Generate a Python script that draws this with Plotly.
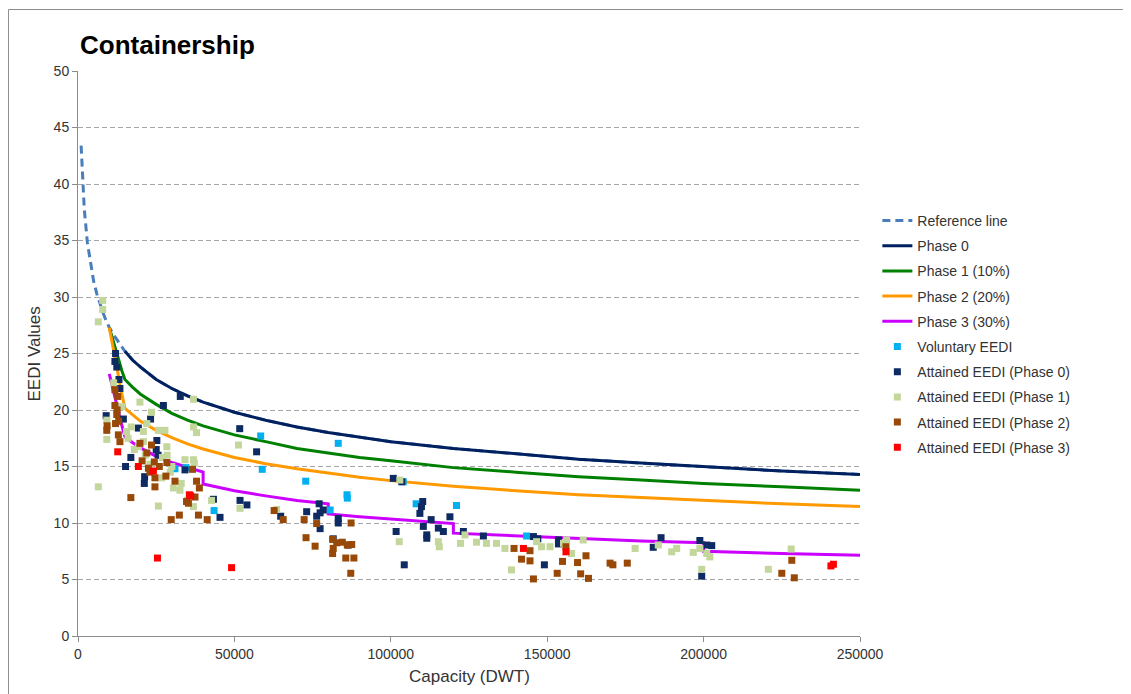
import plotly.graph_objects as go

# ---------------------------
# Datos
# ---------------------------
ref_x = [1000, 1500, 2000, 3000, 4000, 5000, 6000, 7000, 8000, 9000, 10000, 12000, 15000,
         17500, 20000, 25000, 30000, 35000, 40000, 50000, 60000, 70000, 80000, 90000, 100000,
         120000, 140000, 160000, 180000, 200000, 225000, 250000]
ref_y = [43.4, 40.0, 37.8, 34.8, 32.9, 31.4, 30.3, 29.4, 28.6, 27.9, 27.3, 26.4, 25.2,
         24.4, 23.8, 22.7, 21.9, 21.25, 20.7, 19.8, 19.1, 18.5, 18.0, 17.6, 17.2,
         16.6, 16.1, 15.65, 15.3, 15.0, 14.6, 14.3]

p0_x = [15000, 17500, 20000, 25000, 30000, 35000, 40000, 50000, 60000, 70000, 80000, 90000,
        100000, 120000, 140000, 160000, 180000, 200000, 225000, 250000]
p0_y = [25.2, 24.4, 23.8, 22.7, 21.9, 21.25, 20.7, 19.8, 19.1, 18.5, 18.0, 17.6,
        17.2, 16.6, 16.1, 15.65, 15.3, 15.0, 14.6, 14.3]

p1_x = [10000, 11000, 12000, 13000, 14000, 15000, 17500, 20000, 25000, 30000, 35000, 40000,
        50000, 60000, 70000, 80000, 90000, 100000, 120000, 140000, 160000, 180000, 200000,
        225000, 250000]
p1_y = [27.3, 26.3, 25.3, 24.4, 23.5, 22.7, 22.0, 21.4, 20.5, 19.7, 19.1, 18.6,
        17.8, 17.2, 16.6, 16.2, 15.8, 15.5, 14.9, 14.5, 14.1, 13.8, 13.5,
        13.2, 12.9]

p2_x = p1_x
p2_y = [27.3, 25.75, 24.25, 22.8, 21.45, 20.15, 19.55, 19.0, 18.2, 17.55, 17.0, 16.55,
        15.8, 15.25, 14.8, 14.4, 14.05, 13.75, 13.25, 12.85, 12.5, 12.25, 12.0,
        11.7, 11.45]

p3_x = [10000, 11000, 12000, 13000, 14000, 15000, 17500, 20000, 25000, 30000, 35000, 40000,
        40000, 50000, 60000, 70000, 80000, 80000, 90000, 100000, 120000, 120000, 140000,
        160000, 180000, 200000, 200000, 225000, 250000]
p3_y = [23.2, 22.0, 20.8, 19.7, 18.65, 17.65, 17.1, 16.65, 15.9, 15.35, 14.9, 14.5,
        13.45, 12.85, 12.4, 12.0, 11.7, 10.8, 10.55, 10.35, 9.95, 9.1, 8.85,
        8.6, 8.4, 8.25, 7.5, 7.3, 7.15]

vol_x = [31000, 34500, 58400, 58900, 43500, 83200, 72800, 86100, 86000, 80600, 108100,
         121000, 104000, 143400]
vol_y = [14.8, 14.9, 17.7, 14.75, 11.1, 17.05, 13.7, 12.2, 12.5, 11.15, 11.7,
         11.55, 13.65, 8.85]

a0_x = [11800, 12400, 13100, 13400, 12000, 32700, 27300, 9000, 14500, 19300, 23200, 25200,
        25000, 25600, 51700, 57100, 16900, 15200, 21300, 21200, 34200, 43300, 51800, 54000,
        45400, 64800, 73100, 77100, 77400, 78400, 76300, 77400, 83200, 83200, 81600, 86400,
        100800, 103500, 101700, 104300, 110200, 109800, 109300, 110400, 111500, 111500,
        112900, 115200, 116800, 118900, 123200, 129600, 145600, 147000, 153600, 153600,
        149100, 186400, 183900, 198800, 201000, 202600, 199400]
a0_y = [24.3, 23.8, 22.7, 21.9, 25.0, 21.2, 20.4, 19.5, 19.2, 18.4, 19.2, 17.3,
        16.5, 16.0, 18.35, 16.3, 15.8, 15.0, 14.1, 13.5, 14.7, 12.1, 12.0, 11.6,
        10.5, 10.6, 11.0, 11.7, 10.9, 11.15, 10.6, 9.5, 10.4, 10.0, 8.6, 8.05,
        13.95, 13.65, 9.25, 6.3, 11.9, 11.45, 10.85, 9.7, 8.95, 8.65,
        10.3, 9.55, 9.25, 10.55, 9.25, 8.85, 8.8, 8.6, 8.5, 8.15,
        6.3, 8.7, 7.85, 8.45, 8.05, 8.0, 5.3]

a1_x = [7900, 7900, 6500, 11400, 19800, 23500, 36900, 36900, 37900, 9200, 9200, 15500,
        20900, 22000, 27800, 25700, 28400, 28500, 20900, 19300, 51300, 6500, 25700, 34200,
        36900, 37200, 30500, 32600, 36900, 42700, 51800, 63500, 26800, 29500, 14000, 17000,
        16000, 18000, 21500, 23000, 27000, 30000, 33000, 35000,
        102700, 102900, 115200, 115500, 122300, 123700, 127400, 130600, 133800, 136500,
        138600, 146600, 148200, 150900, 155200, 156200, 157800, 161500, 178100, 185500,
        189800, 191400, 196700, 198800, 201000, 202000, 199400, 220700, 228000]
a1_y = [29.7, 28.9, 27.8, 22.4, 20.7, 19.8, 20.95, 18.5, 18.0, 19.1, 17.4, 18.1,
        18.1, 18.8, 18.2, 18.2, 16.75, 16.0, 17.2, 16.75, 16.9, 13.2, 11.5, 15.6,
        15.6, 15.3, 13.1, 12.9, 11.45, 12.0, 11.3, 11.2, 14.0, 14.5, 20.3, 18.5,
        17.5, 16.5, 16.0, 15.2, 15.8, 15.0, 13.5, 12.0,
        8.35, 13.8, 8.35, 7.9, 8.2, 8.95, 8.3, 8.2, 8.2, 7.75,
        5.85, 8.35, 7.9, 7.9, 8.2, 8.5, 7.3, 8.5, 7.75, 8.05,
        7.45, 7.75, 7.4, 7.75, 7.3, 7.0, 5.9, 5.9, 7.7]

a2_x = [11800, 12700, 11800, 12400, 12000, 9200, 9300, 12900, 13400, 19800, 23500, 22000,
        24400, 22500, 24600, 24600, 28400, 28100, 16900, 31000, 36600, 37900, 38800, 37400,
        34700, 35300, 38500, 41300, 32400, 29800, 12500, 13000, 20500, 23000, 26000,
        62700, 65600, 72300, 76300, 72900, 75800, 81400, 82700, 84500, 81400, 81600, 86100,
        85600, 88200, 87200, 87300, 87500, 139400, 141800, 144500, 144500, 145600, 153200,
        154900, 156000, 159700, 162400, 160700, 163200, 170100, 171000, 175600, 228200,
        225000, 229000]
a2_y = [21.8, 21.2, 20.4, 19.6, 18.8, 18.2, 18.6, 17.8, 17.2, 17.05, 16.9, 16.2,
        15.4, 14.85, 14.0, 13.2, 15.35, 14.15, 12.25, 13.7, 14.75, 13.7, 13.1, 12.3,
        11.9, 11.75, 10.7, 10.3, 10.7, 10.3, 20.0, 19.0, 15.5, 14.5, 15.0,
        11.1, 10.3, 10.3, 9.95, 8.7, 7.95, 8.55, 8.25, 8.3, 7.3, 7.75, 8.05,
        6.9, 6.9, 5.55, 10.0, 8.1, 7.75, 6.8, 7.55, 6.65, 5.05, 5.55,
        6.6, 7.9, 6.5, 7.1, 5.5, 5.1, 6.45, 6.3, 6.45, 6.7,
        5.55, 5.15]

a3_x = [12700, 19300, 24100, 35600, 36000, 25400, 49100, 142400, 156000, 240700, 241500]
a3_y = [16.3, 15.0, 14.6, 12.5, 12.4, 6.9, 6.05, 7.75, 7.45, 6.2, 6.35]

FUENTE = "Liberation Sans, Arial, sans-serif"
GRIS_TEXTO = "#333333"

# ---------------------------
# Figura
# ---------------------------
fig = go.Figure()

lineas = [
    ("Reference line", ref_x, ref_y, "#4A7EBB", "8px,5px"),
    ("Phase 0", p0_x, p0_y, "#002060", "solid"),
    ("Phase 1 (10%)", p1_x, p1_y, "#008000", "solid"),
    ("Phase 2 (20%)", p2_x, p2_y, "#FF9900", "solid"),
    ("Phase 3 (30%)", p3_x, p3_y, "#CC00FF", "solid"),
]
for i, (nombre, xs, ys, color, dash) in enumerate(lineas):
    fig.add_trace(go.Scatter(x=xs, y=ys, mode="lines", name=nombre, legendgroup=f"g{i}",
                             line=dict(color=color, width=3, dash=dash)))

puntos = [
    ("Voluntary EEDI", vol_x, vol_y, "#00B0F0"),
    ("Attained EEDI (Phase 0)", a0_x, a0_y, "#0E2A62"),
    ("Attained EEDI (Phase 1)", a1_x, a1_y, "#C3D69B"),
    ("Attained EEDI (Phase 2)", a2_x, a2_y, "#984807"),
    ("Attained EEDI (Phase 3)", a3_x, a3_y, "#FF0000"),
]
for i, (nombre, xs, ys, color) in enumerate(puntos):
    fig.add_trace(go.Scatter(x=xs, y=ys, mode="markers", name=nombre, legendgroup=f"m{i}",
                             marker=dict(symbol="square", size=7, color=color, line=dict(width=0))))

# la pagina tiene 8px de margen en el body: se compensa aqui
fig.update_layout(
    width=1123, height=686,
    margin=dict(l=70, r=271, t=63, b=58),
    paper_bgcolor="white", plot_bgcolor="white",
    font=dict(family=FUENTE, size=14, color=GRIS_TEXTO),
    showlegend=True,
    legend=dict(x=1.0222, y=0.763, xanchor="left", yanchor="top",
                font=dict(family=FUENTE, size=14, color=GRIS_TEXTO),
                traceorder="grouped", tracegroupgap=4, itemwidth=30,
                bgcolor="rgba(0,0,0,0)"),
    shapes=[dict(type="rect", xref="paper", yref="paper",
                 x0=-0.0889, x1=1.40, y0=-0.15, y1=1.1088,
                 line=dict(color="#8C8C8C", width=1))],
    annotations=[
        dict(text="<b>Containership</b>", xref="paper", yref="paper", x=0.0, y=1.046,
             xanchor="left", yanchor="middle", showarrow=False,
             font=dict(family=FUENTE, size=26, color="black")),
        dict(text="EEDI Values", xref="paper", yref="paper", x=-0.055, y=0.5,
             xanchor="center", yanchor="middle", textangle=-90, showarrow=False,
             font=dict(family=FUENTE, size=17, color=GRIS_TEXTO)),
        dict(text="Capacity (DWT)", xref="paper", yref="paper", x=0.5, y=-0.071,
             xanchor="center", yanchor="middle", showarrow=False,
             font=dict(family=FUENTE, size=17, color=GRIS_TEXTO)),
    ],
)

fig.update_xaxes(range=[0, 250000], tickvals=[0, 50000, 100000, 150000, 200000, 250000],
                 tickformat="d", showgrid=False, zeroline=False,
                 showline=True, linecolor="#8C8C8C", linewidth=1,
                 ticks="outside", ticklen=5, tickcolor="#8C8C8C",
                 tickfont=dict(family=FUENTE, size=14, color=GRIS_TEXTO))
fig.update_yaxes(range=[0, 50], dtick=5, showgrid=True, gridcolor="#A6A6A6",
                 griddash="5px,3px", gridwidth=1.2, zeroline=False,
                 showline=True, linecolor="#8C8C8C", linewidth=1,
                 ticks="outside", ticklen=5, tickcolor="#8C8C8C",
                 tickfont=dict(family=FUENTE, size=14, color=GRIS_TEXTO))

fig.write_html("out.html")
